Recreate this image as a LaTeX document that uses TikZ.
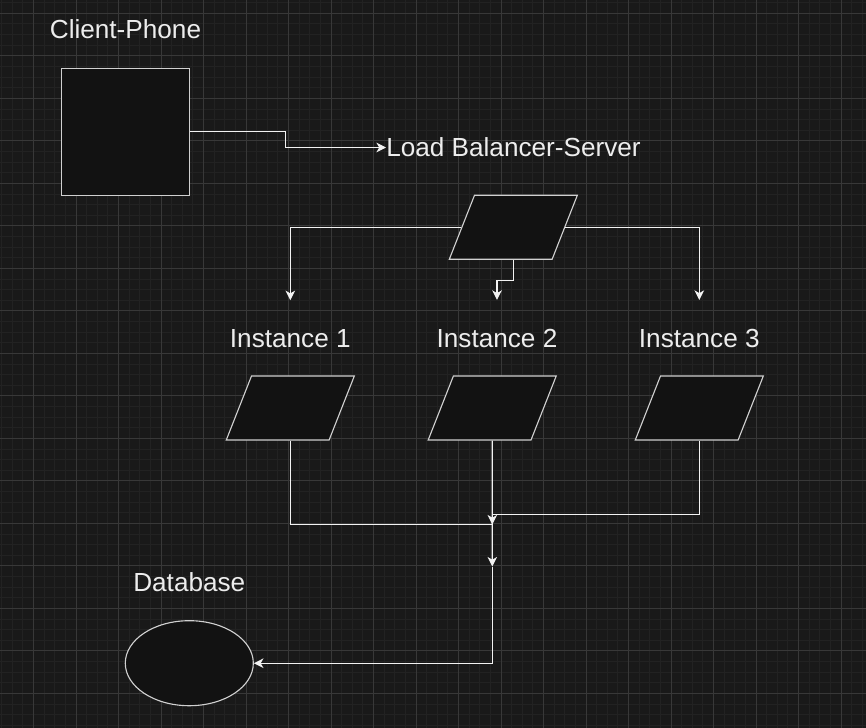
\documentclass[tikz,border=0pt]{standalone}
\usepackage{fontspec}
\setmainfont{Liberation Sans}
\usepackage{tikz}
\usetikzlibrary{
    arrows.meta,
    positioning,
    shapes.geometric
}
\definecolor{canvasbg}{HTML}{191919}
\definecolor{shapefill}{HTML}{121212}
\definecolor{gridminor}{HTML}{222222}
\definecolor{gridmajor}{HTML}{383838}
\definecolor{edgeline}{HTML}{F2F2F2}
\definecolor{shapeline}{HTML}{D0D0D0}
\definecolor{labeltext}{HTML}{EDEDED}

\begin{document}
\begin{tikzpicture}[
    x=0.025cm, y=-0.025cm,
    box/.style={
        rectangle,
        draw=shapeline,
        fill=shapefill,
        line width=0.8pt,
        minimum width=3.18cm,
        minimum height=3.18cm,
        inner sep=0pt
    },
    slant/.style={
        trapezium,
        trapezium left angle=72,
        trapezium right angle=108,
        trapezium stretches=true,
        draw=shapeline,
        fill=shapefill,
        line width=0.8pt,
        minimum width=3.2cm,
        minimum height=1.6cm,
        inner sep=2pt
    },
    store/.style={
        ellipse,
        draw=shapeline,
        fill=shapefill,
        line width=0.8pt,
        minimum width=3.2cm,
        minimum height=2.125cm,
        inner sep=0pt
    },
    caption/.style={
        text=labeltext,
        font=\fontsize{18.6}{22}\selectfont,
        inner sep=0pt
    },
    link/.style={
        draw=edgeline,
        line width=0.8pt
    },
    arrow/.style={
        link,
        -{Stealth[length=0.24cm, width=0.24cm, inset=0.07cm]}
    }
]

% Fondo y cuadricula
\fill[canvasbg] (0,0) rectangle (866,728);
\useasboundingbox (0,0) rectangle (866,728);
\begin{scope}
\clip (0,0) rectangle (866,728);
\foreach \gx in {-9,1.625,...,870} \draw[gridminor, line width=0.6pt] (\gx,0) -- (\gx,728);
\foreach \gy in {2.675,13.3,...,732} \draw[gridminor, line width=0.6pt] (0,\gy) -- (866,\gy);
\foreach \gx in {-9,33.5,...,870} \draw[gridmajor, line width=0.7pt] (\gx,0) -- (\gx,728);
\foreach \gy in {13.3,55.8,...,732} \draw[gridmajor, line width=0.7pt] (0,\gy) -- (866,\gy);
\end{scope}

% Nodos principales
\node[box] (phone) at (125.5,131.7) {};
\node[caption, above=0.7cm of phone] (phonelbl) {Client-Phone};
\node[caption, anchor=west] (lbtext) at (386,147.5) {Load Balancer-Server};
\node[slant] (lb) at (513.3,227.3) {};

\node[slant] (inst1) at (290.3,408) {};
\node[slant] (inst2) at (492.2,408) {};
\node[slant] (inst3) at (699.3,408) {};
\node[caption, above=0.69cm of inst1] (inst1lbl) {Instance 1};
\node[caption, above=0.69cm of inst2, xshift=0.12cm] (inst2lbl) {Instance 2};
\node[caption, above=0.69cm of inst3] (inst3lbl) {Instance 3};

\node[store] (db) at (189.3,663.2) {};
\node[caption, above=0.7cm of db] (dblbl) {Database};

\coordinate (join) at (492.3,514.3);
\coordinate (merge) at (492.3,524.5);
\coordinate (hub) at (492.3,566.5);

% Flechas del balanceador
\draw[arrow] (phone.east) -- ++(96,0) |- (lbtext.west);
\draw[arrow, shorten >=0.72cm] (lb.west) -| (inst1lbl.north);
\draw[arrow, shorten >=0.72cm] (lb.south) -- ++(0,21) -| (inst2lbl.north);
\draw[arrow, shorten >=0.72cm] (lb.east) -| (inst3lbl.north);

% Flechas hacia la base de datos
\draw[link] (inst1.south) |- (merge);
\draw[arrow] (inst3.south) |- (join) -- (merge);
\draw[arrow] (inst2.south) -- (hub);
\draw[arrow] (hub) |- (db.east);

\end{tikzpicture}
\end{document}
